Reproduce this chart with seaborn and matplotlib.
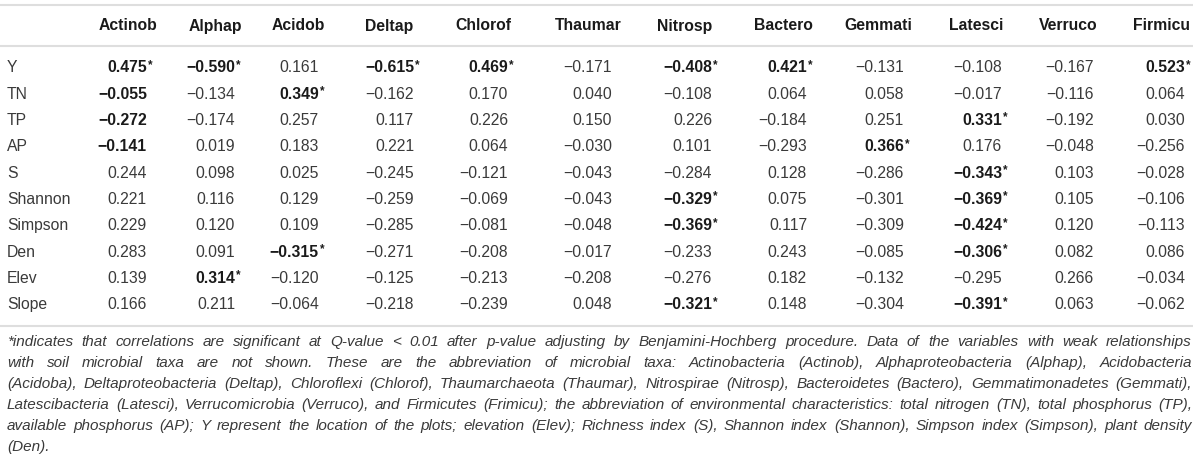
import matplotlib
matplotlib.use("Agg")
import matplotlib.pyplot as plt
import seaborn as sns
import pandas as pd

# table content
taxa = ["Actinob", "Alphap", "Acidob", "Deltap", "Chlorof", "Thaumar",
        "Nitrosp", "Bactero", "Gemmati", "Latesci", "Verruco", "Firmicu"]
env = ["Y", "TN", "TP", "AP", "S", "Shannon", "Simpson", "Den", "Elev", "Slope"]

r_Y = [0.475, -0.590, 0.161, -0.615, 0.469, -0.171, -0.408, 0.421, -0.131, -0.108, -0.167, 0.523]
r_TN = [-0.055, -0.134, 0.349, -0.162, 0.170, 0.040, -0.108, 0.064, 0.058, -0.017, -0.116, 0.064]
r_TP = [-0.272, -0.174, 0.257, 0.117, 0.226, 0.150, 0.226, -0.184, 0.251, 0.331, -0.192, 0.030]
r_AP = [-0.141, 0.019, 0.183, 0.221, 0.064, -0.030, 0.101, -0.293, 0.366, 0.176, -0.048, -0.256]
r_S = [0.244, 0.098, 0.025, -0.245, -0.121, -0.043, -0.284, 0.128, -0.286, -0.343, 0.103, -0.028]
r_Shannon = [0.221, 0.116, 0.129, -0.259, -0.069, -0.043, -0.329, 0.075, -0.301, -0.369, 0.105, -0.106]
r_Simpson = [0.229, 0.120, 0.109, -0.285, -0.081, -0.048, -0.369, 0.117, -0.309, -0.424, 0.120, -0.113]
r_Den = [0.283, 0.091, -0.315, -0.271, -0.208, -0.017, -0.233, 0.243, -0.085, -0.306, 0.082, 0.086]
r_Elev = [0.139, 0.314, -0.120, -0.125, -0.213, -0.208, -0.276, 0.182, -0.132, -0.295, 0.266, -0.034]
r_Slope = [0.166, 0.211, -0.064, -0.218, -0.239, 0.048, -0.321, 0.148, -0.304, -0.391, 0.063, -0.062]

# significant (bold + star) and bold-only cells
starred = [("Y", "Actinob"), ("Y", "Alphap"), ("Y", "Deltap"), ("Y", "Chlorof"),
           ("Y", "Nitrosp"), ("Y", "Bactero"), ("Y", "Firmicu"),
           ("TN", "Acidob"), ("TP", "Latesci"), ("AP", "Gemmati"),
           ("S", "Latesci"), ("Shannon", "Nitrosp"), ("Shannon", "Latesci"),
           ("Simpson", "Nitrosp"), ("Simpson", "Latesci"),
           ("Den", "Acidob"), ("Den", "Latesci"), ("Elev", "Alphap"),
           ("Slope", "Nitrosp"), ("Slope", "Latesci")]
bold_only = [("TN", "Actinob"), ("TP", "Actinob"), ("AP", "Actinob")]

footnote = [
    "*indicates that correlations are significant at Q-value < 0.01 after p-value adjusting by Benjamini-Hochberg procedure. Data of the variables with weak relationships",
    "with soil microbial taxa are not shown. These are the abbreviation of microbial taxa: Actinobacteria (Actinob), Alphaproteobacteria (Alphap), Acidobacteria",
    "(Acidoba), Deltaproteobacteria (Deltap), Chloroflexi (Chlorof), Thaumarchaeota (Thaumar), Nitrospirae (Nitrosp), Bacteroidetes (Bactero), Gemmatimonadetes (Gemmati),",
    "Latescibacteria (Latesci), Verrucomicrobia (Verruco), and Firmicutes (Frimicu); the abbreviation of environmental characteristics: total nitrogen (TN), total phosphorus (TP),",
    "available phosphorus (AP); Y represent the location of the plots; elevation (Elev); Richness index (S), Shannon index (Shannon), Simpson index (Simpson), plant density",
    "(Den).",
]

df = pd.DataFrame([r_Y, r_TN, r_TP, r_AP, r_S, r_Shannon, r_Simpson, r_Den, r_Elev, r_Slope],
                  index=env, columns=taxa)

sns.set_theme(style="white")
plt.rcParams["font.family"] = ["Liberation Sans", "DejaVu Sans"]

fig = plt.figure(figsize=(12, 4.62), dpi=100)
ax = fig.add_axes([0, 0, 1, 1])
ax.set_xlim(0, 1200)
ax.set_ylim(462, 0)
ax.axis("off")

# layout (pixels)
col_right = [147, 235, 319, 414, 508, 612, 712, 807, 904, 1002, 1094, 1185]
col_head = [128, 215, 298, 389, 483, 588, 685, 783, 878, 976, 1068, 1161]
head_y = 26
row_y0, row_dy = 68, 26.3
fs = 11.3
txt_c = "#3a3a3a"
bold_c = "#1a1a1a"
rule_c = "#dedede"

for y in [5, 46, 326]:
    ax.plot([0, 1193], [y, y], color=rule_c, lw=1.5, solid_capstyle="butt")

for x, name in zip(col_head, taxa):
    ax.text(x, head_y, name, ha="center", va="center", fontsize=fs,
            fontweight="bold", color=bold_c)

for i, row in enumerate(env):
    y = row_y0 + i * row_dy
    ax.text(7, y, row, ha="left", va="center", fontsize=fs, color=txt_c)
    for j, col in enumerate(taxa):
        v = df.loc[row, col]
        s = f"{v:.3f}".replace("-", "\u2212")
        star = (row, col) in starred
        bold = star or (row, col) in bold_only
        ax.text(col_right[j], y, s, ha="right", va="center", fontsize=fs,
                fontweight="bold" if bold else "normal",
                color=bold_c if bold else txt_c)
        if star:
            ax.text(col_right[j] + 0.5, y - 3, "*", ha="left", va="center",
                    fontsize=8.5, fontweight="bold", color=bold_c)

# footnote, justified
renderer = fig.canvas.get_renderer()
x0, x1 = 7, 1192
base = 10.5
widths = []
for line in footnote:
    t = ax.text(0, 0, line, fontsize=base, style="italic")
    widths.append(t.get_window_extent(renderer).width)
    t.remove()
fn_fs = min(11.0, base * (x1 - x0) / max(widths) * 0.995)

foot_y0, foot_dy = 342, 21
for k, line in enumerate(footnote):
    y = foot_y0 + k * foot_dy
    if k == len(footnote) - 1:
        ax.text(x0, y, line, ha="left", va="center", fontsize=fn_fs,
                style="italic", color=txt_c)
        continue
    words = line.split(" ")
    arts = [ax.text(0, y, w, ha="left", va="center", fontsize=fn_fs,
                    style="italic", color=txt_c) for w in words]
    ws = [a.get_window_extent(renderer).width for a in arts]
    gap = (x1 - x0 - sum(ws)) / (len(words) - 1)
    x = x0
    for a, w in zip(arts, ws):
        a.set_x(x)
        x += w + gap

fig.savefig("out.png", dpi=100)
